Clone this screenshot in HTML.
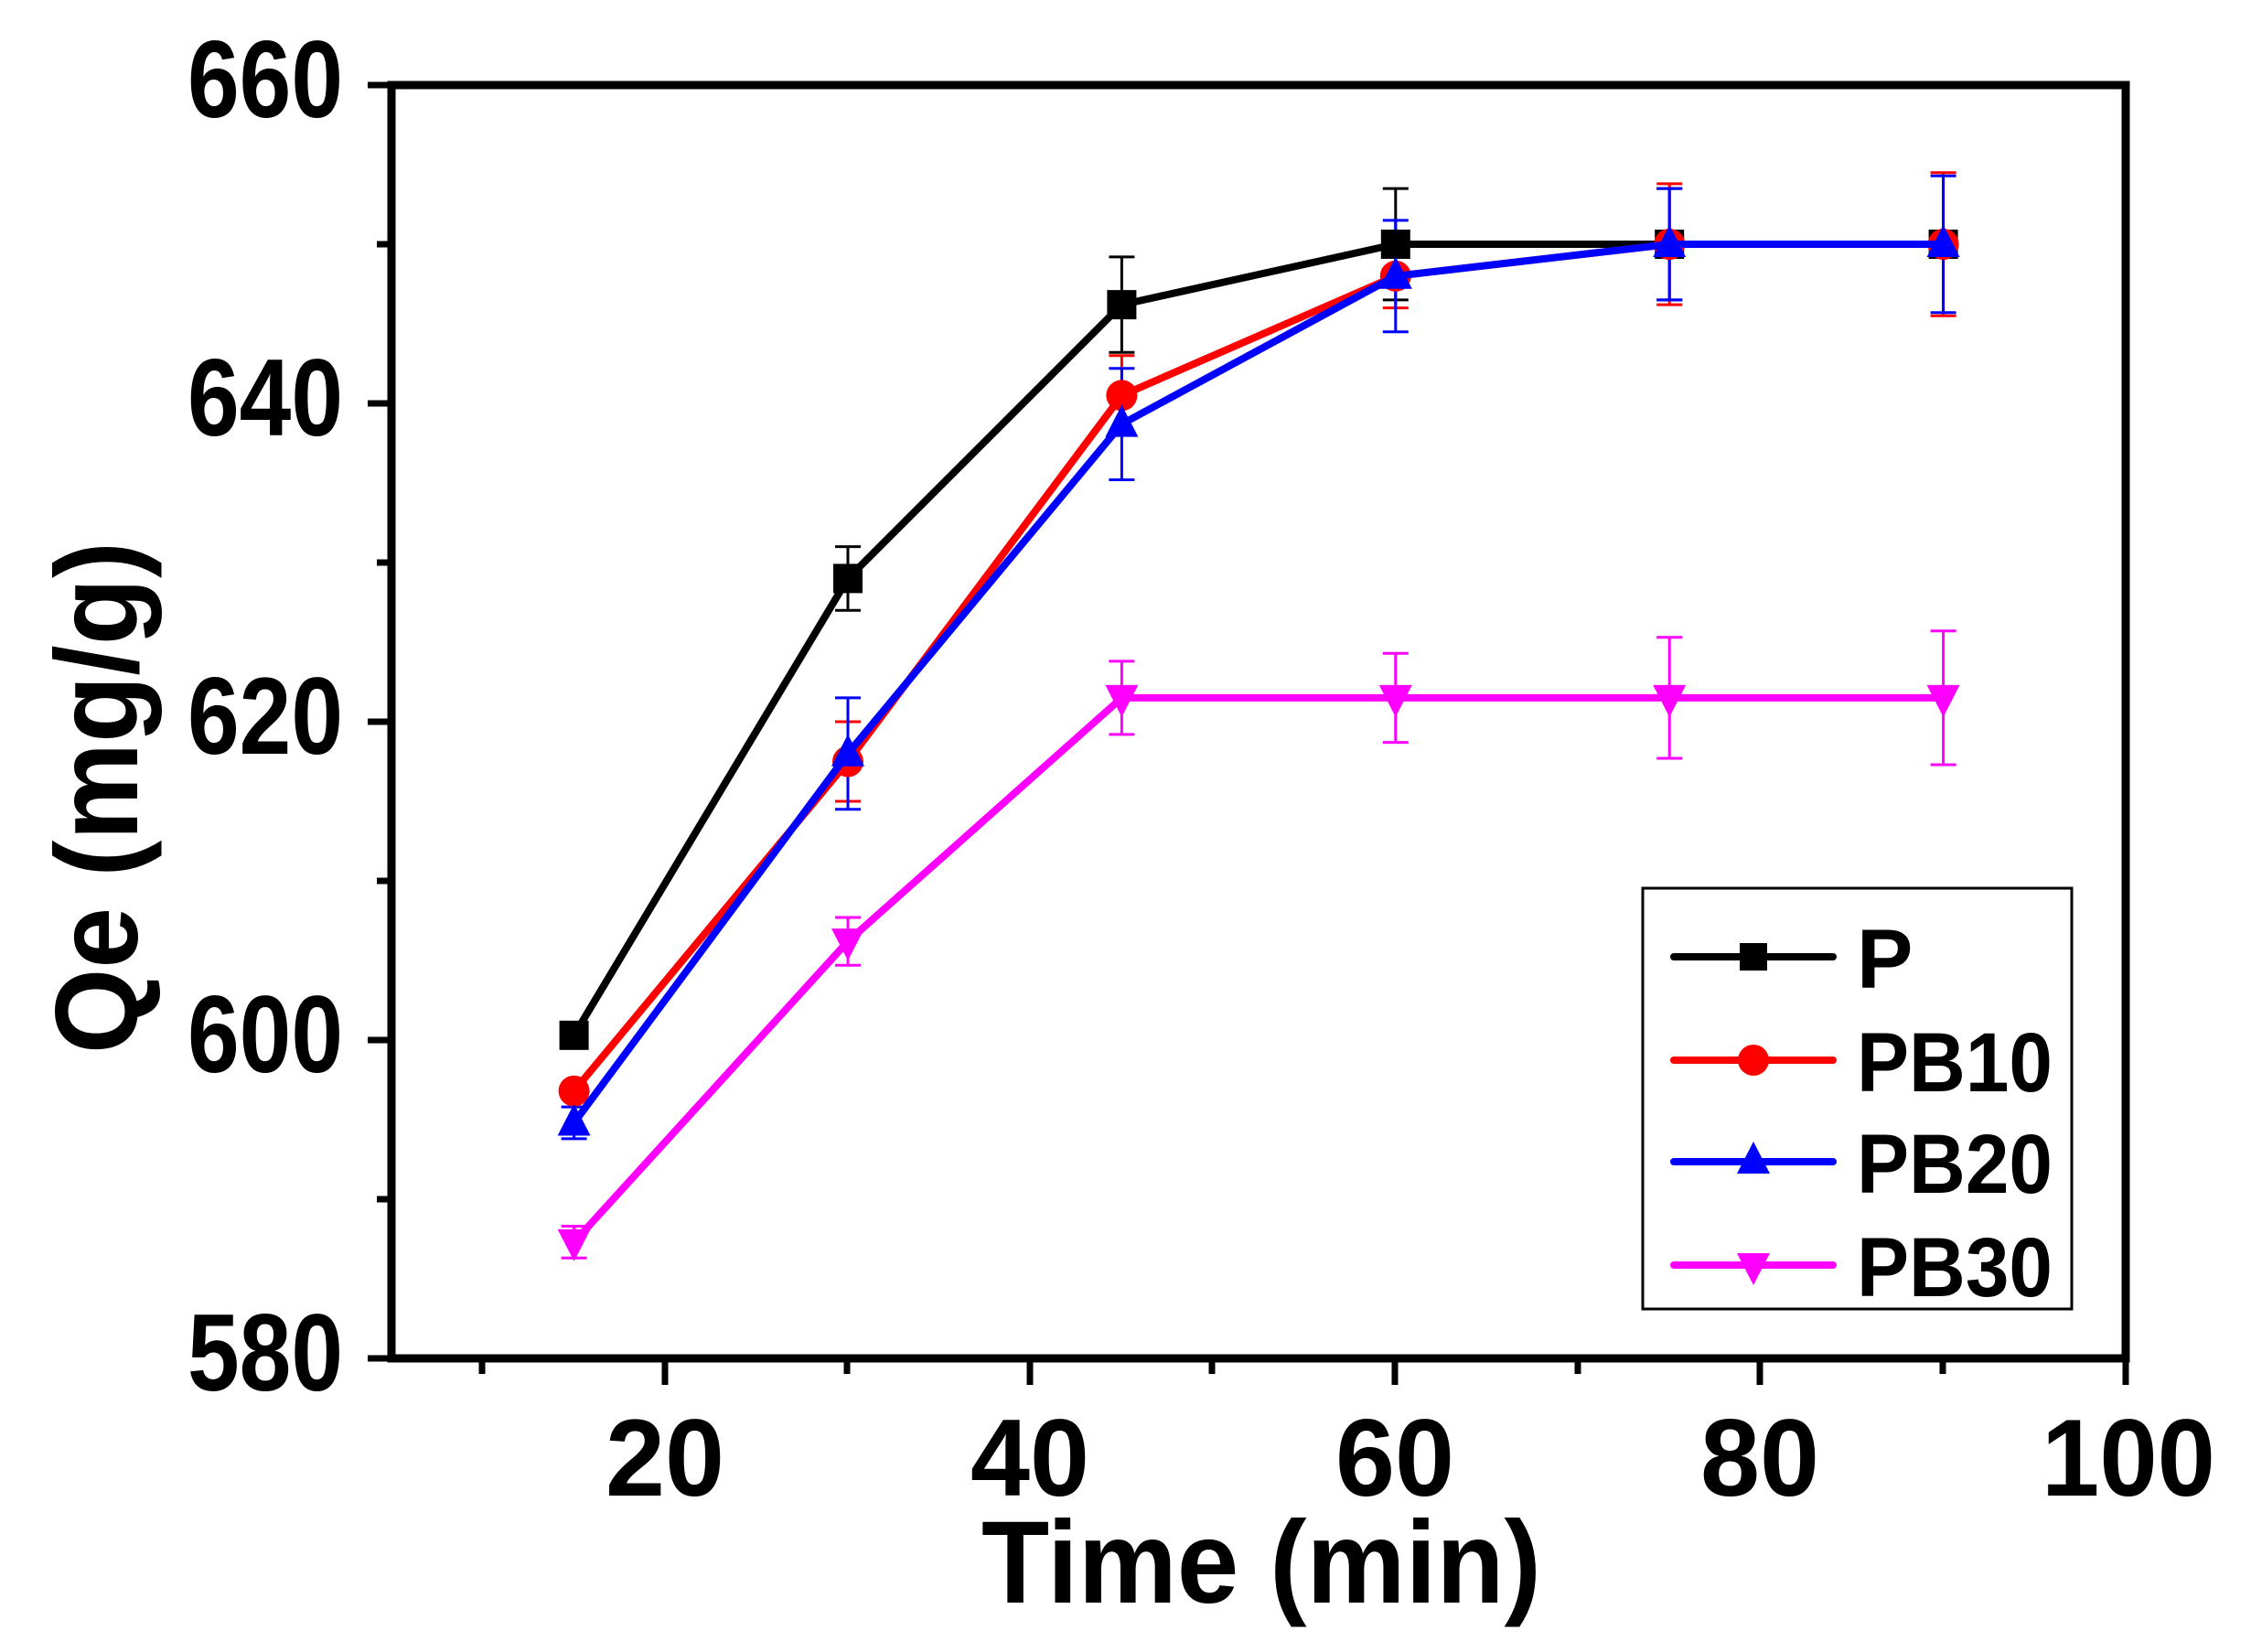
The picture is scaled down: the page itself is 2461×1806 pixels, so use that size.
<!DOCTYPE html>
<html><head><meta charset="utf-8"><style>
html,body{margin:0;padding:0;background:#fff;}
svg{display:block;}
text{font-family:"Liberation Sans",Arial,sans-serif;font-weight:bold;fill:#000;}
</style></head><body>
<svg width="2461" height="1806" viewBox="0 0 2461 1806" xmlns="http://www.w3.org/2000/svg">
<defs>
<marker id="ms" markerUnits="userSpaceOnUse" markerWidth="40" markerHeight="40" refX="20" refY="20" overflow="visible"><rect x="4" y="4" width="32" height="32" fill="#000"/></marker>
<marker id="mc" markerUnits="userSpaceOnUse" markerWidth="40" markerHeight="40" refX="20" refY="20" overflow="visible"><circle cx="20" cy="20" r="17" fill="#f00"/></marker>
<marker id="mt" markerUnits="userSpaceOnUse" markerWidth="40" markerHeight="40" refX="20" refY="20" overflow="visible"><polygon points="20,-1 2,34 38,34" fill="#00f"/></marker>
<marker id="mv" markerUnits="userSpaceOnUse" markerWidth="40" markerHeight="40" refX="20" refY="20" overflow="visible"><polygon points="20,41 2,6 38,6" fill="#f0f"/></marker>
</defs>
<rect width="2461" height="1806" fill="#fff"/>
<g fill="none" stroke-width="3">
<path stroke="#000" d="M627.6 1123.1V1140.5M613.6 1123.1H641.6M613.6 1140.5H641.6 M927 597.6V667.2M913 597.6H941M913 667.2H941 M1226.4 280.9V385.3M1212.4 280.9H1240.4M1212.4 385.3H1240.4 M1525.8 206.1V327.9M1511.8 206.1H1539.8M1511.8 327.9H1539.8 M1825.2 206.1V327.9M1811.2 206.1H1839.2M1811.2 327.9H1839.2"/>
<path stroke="#f00" d="M627.6 1184V1201.4M613.6 1184H641.6M613.6 1201.4H641.6 M927 789V876M913 789H941M913 876H941 M1226.4 388.8V475.8M1212.4 388.8H1240.4M1212.4 475.8H1240.4 M1525.8 267V336.6M1511.8 267H1539.8M1511.8 336.6H1539.8 M1825.2 200.9V333.1M1811.2 200.9H1839.2M1811.2 333.1H1839.2 M2124.6 188.7V345.3M2110.6 188.7H2138.6M2110.6 345.3H2138.6"/>
<path stroke="#00f" d="M627.6 1210.1V1244.9M613.6 1210.1H641.6M613.6 1244.9H641.6 M927 762.9V884.7M913 762.9H941M913 884.7H941 M1226.4 402.7V524.5M1212.4 402.7H1240.4M1212.4 524.5H1240.4 M1525.8 240.9V362.7M1511.8 240.9H1539.8M1511.8 362.7H1539.8 M1825.2 206.1V327.9M1811.2 206.1H1839.2M1811.2 327.9H1839.2 M2124.6 192.2V341.8M2110.6 192.2H2138.6M2110.6 341.8H2138.6"/>
<path stroke="#f0f" d="M627.6 1340.5V1375.3M613.6 1340.5H641.6M613.6 1375.3H641.6 M927 1003V1055.2M913 1003H941M913 1055.2H941 M1226.4 722.9V802.9M1212.4 722.9H1240.4M1212.4 802.9H1240.4 M1525.8 714.2V811.6M1511.8 714.2H1539.8M1511.8 811.6H1539.8 M1825.2 696.8V829M1811.2 696.8H1839.2M1811.2 829H1839.2 M2124.6 689.8V836M2110.6 689.8H2138.6M2110.6 836H2138.6"/>
</g>
<g fill="none" stroke-width="8" stroke-linejoin="round">
<polyline stroke="#000" marker-start="url(#ms)" marker-mid="url(#ms)" marker-end="url(#ms)" points="627.6,1131.8 927,632.4 1226.4,333.1 1525.8,267 1825.2,267 2124.6,267"/>
<polyline stroke="#f00" marker-start="url(#mc)" marker-mid="url(#mc)" marker-end="url(#mc)" points="627.6,1192.7 927,832.5 1226.4,432.3 1525.8,301.8 1825.2,267 2124.6,267"/>
<polyline stroke="#00f" marker-start="url(#mt)" marker-mid="url(#mt)" marker-end="url(#mt)" points="627.6,1227.5 927,823.8 1226.4,463.6 1525.8,301.8 1825.2,267 2124.6,267"/>
<polyline stroke="#f0f" marker-start="url(#mv)" marker-mid="url(#mv)" marker-end="url(#mv)" points="627.6,1357.9 927,1029.1 1226.4,762.9 1525.8,762.9 1825.2,762.9 2124.6,762.9"/>
</g>
<rect x="428" y="93" width="1896" height="1392" fill="none" stroke="#000" stroke-width="9"/>
<g stroke="#000" stroke-width="7">
<line x1="402" y1="93" x2="428" y2="93"/><line x1="412" y1="267" x2="428" y2="267"/>
<line x1="402" y1="441" x2="428" y2="441"/><line x1="412" y1="615" x2="428" y2="615"/>
<line x1="402" y1="789" x2="428" y2="789"/><line x1="412" y1="963" x2="428" y2="963"/>
<line x1="402" y1="1137" x2="428" y2="1137"/><line x1="412" y1="1311" x2="428" y2="1311"/>
<line x1="402" y1="1485" x2="428" y2="1485"/>
<line x1="527" y1="1485" x2="527" y2="1502"/><line x1="727" y1="1485" x2="727" y2="1514"/>
<line x1="926" y1="1485" x2="926" y2="1502"/><line x1="1126" y1="1485" x2="1126" y2="1514"/>
<line x1="1325" y1="1485" x2="1325" y2="1502"/><line x1="1525" y1="1485" x2="1525" y2="1514"/>
<line x1="1725" y1="1485" x2="1725" y2="1502"/><line x1="1924" y1="1485" x2="1924" y2="1514"/>
<line x1="2124" y1="1485" x2="2124" y2="1502"/><line x1="2324" y1="1485" x2="2324" y2="1514"/>
</g>
<g font-size="120">
<text x="205" y="128" textLength="170" lengthAdjust="spacingAndGlyphs">660</text>
<text x="205" y="476" textLength="170" lengthAdjust="spacingAndGlyphs">640</text>
<text x="205" y="824" textLength="170" lengthAdjust="spacingAndGlyphs">620</text>
<text x="205" y="1172" textLength="170" lengthAdjust="spacingAndGlyphs">600</text>
<text x="205" y="1520" textLength="170" lengthAdjust="spacingAndGlyphs">580</text>
</g>
<g font-size="120">
<text x="662" y="1635" textLength="130" lengthAdjust="spacingAndGlyphs">20</text>
<text x="1061" y="1635" textLength="130" lengthAdjust="spacingAndGlyphs">40</text>
<text x="1460" y="1635" textLength="130" lengthAdjust="spacingAndGlyphs">60</text>
<text x="1859" y="1635" textLength="130" lengthAdjust="spacingAndGlyphs">80</text>
<text x="2232" y="1635" textLength="190" lengthAdjust="spacingAndGlyphs">100</text>
</g>
<text x="1073" y="1752" font-size="128" textLength="612" lengthAdjust="spacingAndGlyphs">Time (min)</text>
<text transform="translate(150,1152) rotate(-90)" font-size="128" textLength="560" lengthAdjust="spacingAndGlyphs">Qe (mg/g)</text>
<rect x="1796" y="971" width="469" height="460" fill="#fff" stroke="#000" stroke-width="3"/>
<g stroke-width="8" stroke-linecap="round">
<line x1="1830" y1="1046" x2="2004" y2="1046" stroke="#000"/>
<line x1="1830" y1="1159" x2="2004" y2="1159" stroke="#f00"/>
<line x1="1830" y1="1270" x2="2004" y2="1270" stroke="#00f"/>
<line x1="1830" y1="1383" x2="2004" y2="1383" stroke="#f0f"/>
</g>
<rect x="1902" y="1031" width="30" height="30" fill="#000"/>
<circle cx="1917" cy="1159" r="17" fill="#f00"/>
<polygon points="1917,1248 1899,1283 1935,1283" fill="#00f"/>
<polygon points="1917,1405 1899,1370 1935,1370" fill="#f0f"/>
<g font-size="92">
<text x="2030" y="1080">P</text>
<text x="2030" y="1193" textLength="214" lengthAdjust="spacingAndGlyphs">PB10</text>
<text x="2030" y="1304" textLength="214" lengthAdjust="spacingAndGlyphs">PB20</text>
<text x="2030" y="1417" textLength="214" lengthAdjust="spacingAndGlyphs">PB30</text>
</g>
</svg>
</body></html>
